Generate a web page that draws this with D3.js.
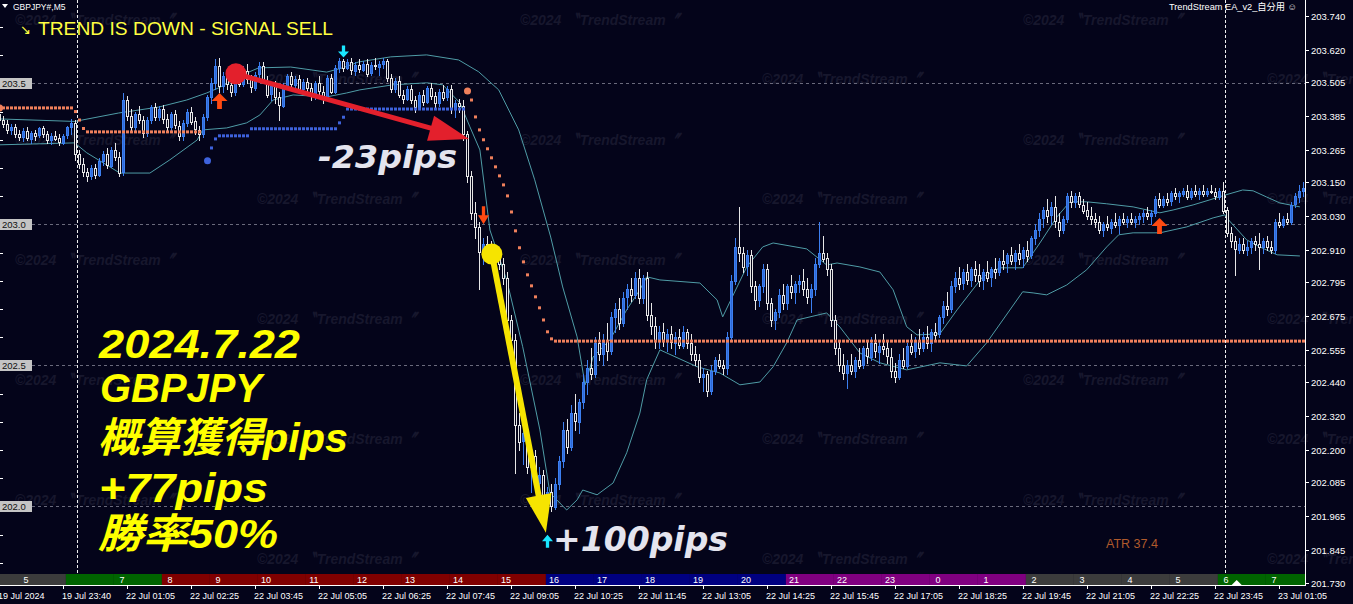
<!DOCTYPE html>
<html>
<head>
<meta charset="utf-8">
<script src="https://cdn.jsdelivr.net/npm/d3@7"></script>
<style>
  body { margin: 0; background: #04041a; }
  svg { display: block; }
</style>
</head>
<body>
<svg id="chart" width="1353" height="604"></svg>
<script>
// ---- data (GBPJPY M5, one row per candle: open, high, low, close) ----
const ohlc = [
  [203.390,203.405,203.360,203.370],[203.370,203.385,203.345,203.355],[203.355,203.370,203.325,203.335],[203.335,203.355,203.320,203.345],[203.345,203.355,203.310,203.320],
  [203.320,203.335,203.300,203.310],[203.310,203.340,203.295,203.330],[203.330,203.345,203.300,203.305],[203.305,203.330,203.290,203.325],[203.325,203.335,203.300,203.315],
  [203.315,203.345,203.310,203.340],[203.340,203.350,203.310,203.320],[203.320,203.330,203.290,203.300],[203.300,203.325,203.285,203.315],[203.315,203.330,203.300,203.305],
  [203.305,203.320,203.280,203.290],[203.290,203.320,203.285,203.315],[203.315,203.350,203.305,203.345],[203.345,203.375,203.320,203.360],[203.360,203.370,203.230,203.250],
  [203.250,203.265,203.200,203.215],[203.215,203.235,203.170,203.185],[203.185,203.200,203.155,203.170],[203.170,203.210,203.160,203.200],[203.200,203.215,203.165,203.175],
  [203.175,203.235,203.170,203.225],[203.225,203.260,203.210,203.250],[203.250,203.270,203.200,203.210],[203.210,203.275,203.205,203.265],[203.265,203.290,203.230,203.240],
  [203.240,203.255,203.170,203.185],[203.185,203.465,203.175,203.440],[203.440,203.455,203.370,203.385],[203.385,203.410,203.330,203.345],[203.345,203.400,203.335,203.390],
  [203.390,203.420,203.360,203.370],[203.370,203.385,203.310,203.325],[203.325,203.380,203.315,203.370],[203.370,203.425,203.360,203.415],[203.415,203.430,203.370,203.380],
  [203.380,203.420,203.370,203.410],[203.410,203.425,203.360,203.375],[203.375,203.390,203.330,203.345],[203.345,203.400,203.335,203.390],[203.390,203.405,203.340,203.350],
  [203.350,203.365,203.300,203.315],[203.315,203.370,203.300,203.360],[203.360,203.410,203.350,203.400],[203.400,203.415,203.355,203.365],[203.365,203.380,203.320,203.335],
  [203.335,203.350,203.300,203.320],[203.320,203.390,203.310,203.380],[203.380,203.460,203.370,203.450],[203.450,203.520,203.430,203.500],[203.500,203.585,203.480,203.560],
  [203.560,203.590,203.470,203.490],[203.490,203.540,203.470,203.525],[203.525,203.545,203.480,203.495],[203.495,203.520,203.455,203.470],[203.470,203.530,203.460,203.520],
  [203.520,203.550,203.490,203.500],[203.500,203.560,203.490,203.545],[203.545,203.570,203.500,203.515],[203.515,203.530,203.470,203.485],[203.485,203.540,203.475,203.530],
  [203.530,203.575,203.515,203.560],[203.560,203.575,203.500,203.510],[203.510,203.525,203.450,203.460],[203.460,203.500,203.440,203.490],[203.490,203.510,203.430,203.450],
  [203.450,203.470,203.370,203.420],[203.420,203.500,203.415,203.490],[203.490,203.535,203.480,203.525],[203.525,203.540,203.480,203.495],[203.495,203.525,203.470,203.515],
  [203.515,203.530,203.470,203.480],[203.480,203.515,203.465,203.505],[203.505,203.520,203.470,203.485],[203.485,203.500,203.440,203.455],[203.455,203.510,203.445,203.500],
  [203.500,203.525,203.460,203.470],[203.470,203.490,203.430,203.445],[203.445,203.530,203.440,203.520],[203.520,203.535,203.465,203.470],[203.470,203.565,203.465,203.555],
  [203.555,203.590,203.540,203.580],[203.580,203.588,203.545,203.555],[203.555,203.585,203.550,203.575],[203.575,203.590,203.535,203.545],[203.545,203.575,203.530,203.565],
  [203.565,203.585,203.540,203.550],[203.550,203.580,203.545,203.570],[203.570,203.585,203.525,203.535],[203.535,203.575,203.530,203.565],[203.565,203.590,203.550,203.560],
  [203.560,203.580,203.530,203.570],[203.570,203.590,203.555,203.580],[203.580,203.585,203.510,203.520],[203.520,203.535,203.470,203.480],[203.480,203.520,203.470,203.510],
  [203.510,203.525,203.450,203.460],[203.460,203.475,203.430,203.445],[203.445,203.490,203.440,203.480],[203.480,203.495,203.430,203.440],[203.440,203.455,203.400,203.415],
  [203.415,203.470,203.410,203.460],[203.460,203.475,203.425,203.435],[203.435,203.490,203.430,203.485],[203.485,203.500,203.445,203.455],[203.455,203.470,203.415,203.430],
  [203.430,203.480,203.420,203.470],[203.470,203.495,203.440,203.450],[203.450,203.490,203.440,203.480],[203.480,203.495,203.395,203.410],[203.410,203.440,203.380,203.430],
  [203.430,203.445,203.400,203.420],[203.420,203.440,203.300,203.320],[203.320,203.330,203.150,203.170],[203.170,203.190,203.020,203.040],[203.040,203.080,202.950,202.990],
  [202.990,203.010,202.770,202.900],[202.900,202.950,202.860,202.930],[202.930,202.960,202.890,202.910],[202.910,202.940,202.860,202.880],[202.880,202.920,202.840,202.900],
  [202.900,202.915,202.840,202.860],[202.860,202.880,202.790,202.810],[202.810,202.830,202.640,202.660],[202.660,202.680,202.560,202.590],[202.590,202.610,202.120,202.290],
  [202.290,202.330,202.200,202.230],[202.230,202.280,202.150,202.260],[202.260,202.280,202.120,202.140],[202.140,202.200,202.050,202.180],[202.180,202.200,202.060,202.080],
  [202.080,202.140,202.000,202.110],[202.110,202.130,202.000,202.020],[202.020,202.070,201.975,202.050],[202.050,202.080,201.985,202.000],[202.000,202.100,201.990,202.080],
  [202.080,202.180,202.060,202.160],[202.160,202.300,202.140,202.270],[202.270,202.310,202.190,202.210],[202.210,202.360,202.200,202.330],[202.330,202.400,202.270,202.300],
  [202.300,202.380,202.260,202.370],[202.370,202.470,202.350,202.440],[202.440,202.520,202.400,202.490],[202.490,202.560,202.450,202.470],[202.470,202.600,202.460,202.580],
  [202.580,202.620,202.520,202.540],[202.540,202.610,202.500,202.590],[202.590,202.650,202.520,202.550],[202.550,202.690,202.540,202.670],[202.670,202.720,202.620,202.700],
  [202.700,202.740,202.630,202.650],[202.650,202.760,202.640,202.740],[202.740,202.790,202.700,202.770],[202.770,202.810,202.730,202.750],[202.750,202.830,202.740,202.810],
  [202.810,202.840,202.720,202.740],[202.740,202.820,202.720,202.810],[202.810,202.830,202.660,202.680],[202.680,202.720,202.610,202.640],[202.640,202.670,202.560,202.590],
  [202.590,202.640,202.560,202.620],[202.620,202.650,202.570,202.590],[202.590,202.630,202.550,202.610],[202.610,202.640,202.560,202.580],[202.580,202.620,202.540,202.600],
  [202.600,202.630,202.560,202.570],[202.570,202.640,202.560,202.620],[202.620,202.630,202.560,202.580],[202.580,202.610,202.520,202.540],[202.540,202.570,202.500,202.520],
  [202.520,202.540,202.440,202.460],[202.460,202.490,202.410,202.470],[202.470,202.480,202.390,202.410],[202.410,202.500,202.400,202.480],[202.480,202.530,202.470,202.520],
  [202.520,202.540,202.490,202.500],[202.500,202.520,202.470,202.490],[202.490,202.620,202.470,202.600],[202.600,202.820,202.590,202.800],[202.800,202.950,202.790,202.920],
  [202.920,203.060,202.870,202.900],[202.900,202.920,202.830,202.850],[202.850,202.910,202.820,202.890],[202.890,202.910,202.760,202.780],[202.780,202.800,202.700,202.730],
  [202.730,202.790,202.710,202.780],[202.780,202.860,202.760,202.840],[202.840,202.860,202.700,202.720],[202.720,202.740,202.640,202.660],[202.660,202.700,202.630,202.690],
  [202.690,202.770,202.670,202.750],[202.750,202.790,202.700,202.720],[202.720,202.790,202.700,202.780],[202.780,202.820,202.740,202.760],[202.760,202.800,202.720,202.790],
  [202.790,202.820,202.760,202.800],[202.800,202.840,202.750,202.770],[202.770,202.810,202.720,202.740],[202.740,202.790,202.690,202.770],[202.770,202.880,202.750,202.860],
  [202.860,203.010,202.850,202.900],[202.900,202.960,202.870,202.880],[202.880,202.900,202.820,202.840],[202.840,202.860,202.640,202.660],[202.660,202.680,202.540,202.560],
  [202.560,202.590,202.480,202.500],[202.500,202.540,202.450,202.470],[202.470,202.520,202.420,202.500],[202.500,202.540,202.470,202.480],[202.480,202.530,202.460,202.520],
  [202.520,202.560,202.490,202.500],[202.500,202.570,202.490,202.560],[202.560,202.590,202.510,202.530],[202.530,202.600,202.520,202.580],[202.580,202.610,202.530,202.550],
  [202.550,202.590,202.510,202.570],[202.570,202.610,202.540,202.560],[202.560,202.590,202.510,202.530],[202.530,202.560,202.460,202.480],[202.480,202.510,202.440,202.460],
  [202.460,202.540,202.450,202.520],[202.520,202.560,202.490,202.500],[202.500,202.580,202.490,202.570],[202.570,202.610,202.540,202.550],[202.550,202.600,202.530,202.590],
  [202.590,202.630,202.540,202.560],[202.560,202.620,202.550,202.600],[202.600,202.640,202.560,202.580],[202.580,202.630,202.550,202.620],[202.620,202.650,202.590,202.610],
  [202.610,202.680,202.600,202.670],[202.670,202.730,202.650,202.710],[202.710,202.760,202.680,202.700],[202.700,202.800,202.690,202.780],[202.780,202.830,202.760,202.810],
  [202.810,202.850,202.770,202.790],[202.790,202.840,202.770,202.830],[202.830,202.860,202.790,202.800],[202.800,202.850,202.780,202.840],[202.840,202.870,202.800,202.820],
  [202.820,202.860,202.780,202.800],[202.800,202.840,202.770,202.830],[202.830,202.870,202.800,202.810],[202.810,202.850,202.780,202.840],[202.840,202.880,202.810,202.830],
  [202.830,202.880,202.820,202.870],[202.870,202.910,202.840,202.860],[202.860,202.900,202.830,202.890],[202.890,202.920,202.860,202.870],[202.870,202.910,202.840,202.900],
  [202.900,202.930,202.860,202.880],[202.880,202.920,202.850,202.910],[202.910,202.940,202.870,202.890],[202.890,202.960,202.880,202.950],[202.950,203.000,202.930,202.980],
  [202.980,203.040,202.960,203.020],[203.020,203.060,202.990,203.050],[203.050,203.090,203.010,203.030],[203.030,203.080,203.000,203.060],[203.060,203.100,202.990,203.010],
  [203.010,203.040,202.960,202.980],[202.980,203.030,202.970,203.020],[203.020,203.110,203.010,203.100],[203.100,203.120,203.060,203.080],[203.080,203.110,203.060,203.100],
  [203.100,203.115,203.060,203.070],[203.070,203.090,203.040,203.050],[203.050,203.080,203.020,203.030],[203.030,203.060,203.000,203.020],[203.020,203.040,202.990,203.010],
  [203.010,203.030,202.970,202.980],[202.980,203.010,202.960,203.000],[203.000,203.030,202.980,202.990],[202.990,203.020,202.970,203.010],[203.010,203.040,202.990,203.000],
  [203.000,203.030,202.970,203.020],[203.020,203.040,203.000,203.010],[203.010,203.030,202.990,203.020],[203.020,203.040,203.000,203.010],[203.010,203.030,202.990,203.020],
  [203.020,203.040,203.000,203.030],[203.030,203.050,203.010,203.040],[203.040,203.060,203.020,203.030],[203.030,203.050,203.000,203.040],[203.040,203.100,203.030,203.090],
  [203.090,203.110,203.060,203.070],[203.070,203.100,203.060,203.090],[203.090,203.110,203.070,203.080],[203.080,203.120,203.070,203.110],[203.110,203.130,203.090,203.100],
  [203.100,203.120,203.080,203.110],[203.110,203.130,203.100,203.120],[203.120,203.140,203.090,203.100],[203.100,203.130,203.090,203.120],[203.120,203.140,203.100,203.110],
  [203.110,203.130,203.090,203.120],[203.120,203.140,203.100,203.110],[203.110,203.130,203.100,203.120],[203.120,203.140,203.110,203.115],[203.115,203.130,203.090,203.100],
  [203.100,203.130,203.090,203.120],[203.120,203.150,203.040,203.050],[203.050,203.060,202.960,202.970],[202.970,202.990,202.920,202.940],[202.940,202.960,202.820,202.910],
  [202.910,202.950,202.900,202.930],[202.930,202.950,202.900,202.910],[202.910,202.940,202.890,202.920],[202.920,202.950,202.900,202.940],[202.940,202.960,202.910,202.930],
  [202.930,202.970,202.840,202.920],[202.920,202.950,202.900,202.940],[202.940,202.960,202.910,202.920],[202.920,202.940,202.900,202.910],[202.910,203.020,202.900,203.010],
  [203.010,203.040,202.990,203.000],[203.000,203.030,202.990,203.020],[203.020,203.040,203.000,203.010],[203.010,203.080,203.000,203.070],[203.070,203.110,203.060,203.100],
  [203.100,203.140,203.080,203.120],[203.120,203.150,203.100,203.130]
];

// band vertices: [candle index, price]
const upperBand = [
  [0,203.374],[19,203.365],[30,203.395],[40,203.416],[47,203.441],[52,203.466],[55,203.484],[62,203.537],[65,203.555],
  [73,203.558],[82,203.540],[86,203.555],[90,203.576],[98,203.594],[107,203.601],[115,203.583],[120,203.541],[125,203.477],
  [130,203.335],[134,203.158],[138,202.955],[141,202.778],[144.6,202.601],[146.6,202.431],[148.6,202.530],[152.8,202.590],
  [157,202.697],[160.3,202.768],[162,202.814],[165.3,202.803],[175.3,202.792],[179.6,202.732],[181,202.672],[187,202.849],
  [191,202.920],[193.6,202.934],[202,202.913],[207,202.856],[209.6,202.863],[215.3,202.849],[220.3,202.831],[223.6,202.768],
  [227,202.637],[229.6,202.608],[235.3,202.612],[239.6,202.697],[246,202.814],[250.3,202.846],[256,202.846],[260.3,202.934],
  [264.6,203.027],[267.8,203.080],[272,203.080],[277,203.073],[283.6,203.062],[290.3,203.041],[293.6,203.051],[298.6,203.069],
  [302.8,203.087],[306.6,203.104],[311,203.122],[313.6,203.119],[317,203.097],[320.3,203.076],[325.3,203.062]
];
const lowerBand = [
  [0,203.282],[19,203.289],[22,203.254],[30.3,203.182],[37.8,203.182],[42.8,203.229],[49.6,203.299],[51,203.335],[57,203.342],
  [62,203.360],[65.3,203.388],[68.6,203.441],[73.6,203.459],[82,203.452],[87,203.466],[90.3,203.477],[98.6,203.495],[107,203.502],
  [111,203.495],[115.3,203.431],[117.8,203.346],[120.3,203.264],[122.8,202.980],[127,202.803],[131,202.566],[135.3,202.271],
  [137.8,202.048],[142,201.987],[144.6,202.023],[146,202.058],[149.6,202.041],[153.6,202.083],[157,202.190],[160.3,202.331],
  [162,202.449],[165.3,202.555],[174.6,202.495],[180.3,202.473],[185.3,202.431],[190.3,202.441],[193.6,202.495],[197,202.580],
  [199.6,202.661],[207,202.686],[210.3,202.636],[215.3,202.544],[220.3,202.509],[227,202.484],[235.3,202.509],[242,202.498],
  [247,202.580],[256,202.761],[258.6,202.757],[262,202.750],[267,202.785],[272,202.839],[277,202.920],[280,202.963],
  [283.6,202.970],[290.3,202.970],[297,202.991],[303.6,203.023],[306.6,203.034],[307,203.023],[312,202.945],[315.3,202.920],
  [319.6,202.892],[325.3,202.888]
];

// trailing stop dots: [from candle, to candle, level]
const sellStopA = [[0,18,203.413],[19,19,203.400],[20,20,203.370],[21,21,203.340],[22,50,203.328]];
const buyStop = [[52,52,203.226],[53,53,203.271],[54,54,203.303],[55,62,203.314],[63,84,203.339],[85,85,203.360],[86,86,203.380],[87,116,203.409]];
const sellStopB = [
  [117,117,203.473],[118,118,203.441],[119,119,203.381],[120,120,203.335],[121,121,203.300],[122,122,203.268],[123,123,203.236],
  [124,124,203.204],[125,125,203.172],[126,126,203.140],[127,127,203.101],[128,128,203.044],[129,129,202.977],[130,130,202.917],
  [131,131,202.867],[132,132,202.821],[133,133,202.782],[134,134,202.743],[135,135,202.704],[136,136,202.661],[137,137,202.619],
  [138,138,202.594],[139,326,202.586]
];

// signal arrows: candle, tip price, kind
const signals = [
  {i: 55, price: 203.466, kind: "buy"},
  {i: 86, price: 203.592, kind: "entryDown"},
  {i: 121, price: 203.000, kind: "sell"},
  {i: 137, price: 201.899, kind: "exitUp"},
  {i: 290, price: 203.023, kind: "buy"}
];

// hand-drawn trade arrows: start circle and arrow tip, in [candle, price]
const trades = [
  {kind: "loss", from: [59.3, 203.534], to: [117.6, 203.303]},
  {kind: "win",  from: [123.3, 202.895], to: [136.8, 201.906]}
];

const priceTicks = ["203.740","203.620","203.505","203.385","203.265","203.150","203.030","202.910","202.795",
  "202.675","202.555","202.440","202.320","202.200","202.085","201.965","201.845","201.730"];
const gridLevels = [203.5, 203.0, 202.5, 202.0];
const timeLabels = ["19 Jul 2024","19 Jul 23:40","22 Jul 01:05","22 Jul 02:25","22 Jul 03:45","22 Jul 05:05","22 Jul 06:25",
  "22 Jul 07:45","22 Jul 09:05","22 Jul 10:25","22 Jul 11:45","22 Jul 13:05","22 Jul 14:25","22 Jul 15:45","22 Jul 17:05",
  "22 Jul 18:25","22 Jul 19:45","22 Jul 21:05","22 Jul 22:25","22 Jul 23:45","23 Jul 01:05"];
const dayBreaks = [20, 307];
const sessionHours = [5,6,7,8,9,10,11,12,13,14,15,16,17,18,19,20,21,22,23,0,1,2,3,4,5,6,7];
const sessionLabels = ["5","","7","8","9","10","11","12","13","14","15","16","17","18","19","20","21","22","23","0","1","2","3","4","5","6","7"];
const summaryLines = ["2024.7.22", "GBPJPY", "概算獲得pips", "+77pips", "勝率50%"];

// ---- layout ----
const W = 1353, H = 604;
const plotRight = 1305, sessTop = 574, axisY = 585;
const bg = "#04041a";

const svg = d3.select("#chart");
const x = d3.scaleLinear().domain([0, 1]).range([-1.3, 2.7]);
const y = d3.scaleLinear().domain([201.73, 203.74]).range([582.5, 15.7]);
const px = i => Math.round(x(i)) + 0.5;

svg.append("rect").attr("width", W).attr("height", H).attr("fill", bg);

// watermark
const wm = svg.append("g").attr("fill", "#17172d")
  .attr("font-family", "'Liberation Sans', Arial, sans-serif")
  .attr("font-weight", "bold").attr("font-style", "italic").attr("font-size", 15.5);
[[15, 19], [520, 19], [1023, 19], [257, 78], [762, 78], [1267, 78]].forEach(([wx, wy]) => {
  for (let r = 0; r < 5; r++) {
    wm.append("text").attr("x", wx).attr("y", wy + r * 120 + 6)
      .attr("textLength", 160).attr("lengthAdjust", "spacingAndGlyphs")
      .text("©2024 〝TrendStream〞");
  }
});

const plot = svg.append("g");

// grid
plot.selectAll(".grid").data(gridLevels).join("line")
  .attr("x1", 32).attr("x2", plotRight)
  .attr("y1", d => Math.round(y(d)) + 0.5).attr("y2", d => Math.round(y(d)) + 0.5)
  .attr("stroke", "#6a6a7c").attr("stroke-dasharray", "3,3");

plot.selectAll(".sep").data(dayBreaks).join("line")
  .attr("x1", d => Math.round(x(d - 0.5)) + 0.5).attr("x2", d => Math.round(x(d - 0.5)) + 0.5)
  .attr("y1", 0).attr("y2", sessTop)
  .attr("stroke", "#f0f0f0").attr("stroke-dasharray", "3,2");

// bands
const bandLine = d3.line().x(d => x(d[0])).y(d => y(d[1]));
[upperBand, lowerBand].forEach(b => {
  plot.append("path").attr("d", bandLine(b)).attr("fill", "none")
    .attr("stroke", "#4f9ca6").attr("stroke-width", 1);
});

// candles
const cg = plot.append("g").attr("shape-rendering", "crispEdges");
const candle = cg.selectAll("g").data(ohlc).join("g");
candle.append("line")
  .attr("x1", (d, i) => px(i)).attr("x2", (d, i) => px(i))
  .attr("y1", d => Math.round(y(d[1]))).attr("y2", d => Math.round(y(d[2])) + 1)
  .attr("stroke", d => d[3] >= d[0] ? "#3c7ff0" : "#e6e6e6");
candle.append("rect")
  .attr("x", (d, i) => px(i) - 1)
  .attr("width", 2)
  .attr("y", d => Math.round(y(Math.max(d[0], d[3]))) + 0.5)
  .attr("height", d => Math.max(1, Math.round(Math.abs(y(d[0]) - y(d[3])))))
  .attr("fill", d => d[3] >= d[0] ? "#2f68d6" : bg)
  .attr("stroke", d => d[3] >= d[0] ? "#3c7ff0" : "#e6e6e6");

// trailing stop dots
function stopDots(rows, color) {
  const pts = [];
  rows.forEach(([a, b, v]) => d3.range(a, b + 1).forEach(i => pts.push([i, v])));
  const g = plot.append("g").attr("fill", color);
  g.selectAll("rect").data(pts.slice(1)).join("rect")
    .attr("x", d => px(d[0]) - 1.5).attr("y", d => y(d[1]) - 1.5)
    .attr("width", 3).attr("height", 3);
  g.append("circle").attr("cx", px(pts[0][0])).attr("cy", y(pts[0][1])).attr("r", 3.5);
}
stopDots(sellStopA, "#f0805c");
stopDots(buyStop, "#3e62dc");
stopDots(sellStopB, "#f0805c");

// signal arrows
const arrowStyle = {
  buy: {dir: -1, w: 16, h: 16, color: "#ff4a12"},
  sell: {dir: 1, w: 11, h: 18, color: "#ff4a12"},
  entryDown: {dir: 1, w: 11, h: 12, color: "#19e6ff"},
  exitUp: {dir: -1, w: 11, h: 13, color: "#19e6ff"}
};
signals.forEach(s => {
  const st = arrowStyle[s.kind];
  const tx = px(s.i), ty = y(s.price);
  const hh = st.h * 0.5, sw = Math.max(2, st.w * 0.3) / 2, d = st.dir;
  // tip at (tx,ty); arrow body extends away from the tip
  const p = [[0, 0], [st.w / 2, hh], [sw, hh], [sw, st.h], [-sw, st.h], [-sw, hh], [-st.w / 2, hh]]
    .map(([a, b]) => [tx + a, ty - d * b]);
  plot.append("path").attr("d", "M" + p.join("L") + "Z").attr("fill", st.color);
});

// trade annotation arrows
const tradeStyle = {
  loss: {color: "#e3202c", width: 5, head: 40, half: 13},
  win: {color: "#f6e400", width: 6, head: 38, half: 13}
};
trades.forEach(t => {
  const st = tradeStyle[t.kind];
  const x0 = x(t.from[0]), y0 = y(t.from[1]), x1 = x(t.to[0]), y1 = y(t.to[1]);
  const len = Math.hypot(x1 - x0, y1 - y0), ux = (x1 - x0) / len, uy = (y1 - y0) / len;
  const bx = x1 - ux * st.head, by = y1 - uy * st.head;
  const g = plot.append("g");
  g.append("line").attr("x1", x0).attr("y1", y0).attr("x2", bx + ux * 2).attr("y2", by + uy * 2)
    .attr("stroke", st.color).attr("stroke-width", st.width);
  g.append("path").attr("fill", st.color)
    .attr("d", `M${x1},${y1}L${bx - uy * st.half},${by + ux * st.half}L${bx + uy * st.half},${by - ux * st.half}Z`);
  g.append("circle").attr("cx", x0).attr("cy", y0).attr("r", 10.5).attr("fill", st.color);
});

// pip labels
const bigFont = "'DejaVu Sans', sans-serif";
plot.append("text").attr("x", 318).attr("y", 168).attr("font-family", bigFont)
  .attr("font-weight", "bold").attr("font-style", "italic").attr("font-size", 32)
  .attr("textLength", 139).attr("lengthAdjust", "spacingAndGlyphs")
  .attr("fill", "#e4e4ee").text("-23pips");
plot.append("text").attr("x", 553).attr("y", 551).attr("font-family", bigFont)
  .attr("font-weight", "bold").attr("font-style", "italic").attr("font-size", 33)
  .attr("textLength", 175).attr("lengthAdjust", "spacingAndGlyphs")
  .attr("fill", "#e4e4ee").text("+100pips");

// summary block
const summaryPos = [[99, 358, 201], [100, 402, 162], [98, 452, 250], [99, 502, 169], [98, 548, 180]];
svg.append("g").attr("fill", "#ffff00")
  .attr("font-family", "'Liberation Sans', Arial, 'Noto Sans CJK JP', sans-serif")
  .attr("font-weight", "bold").attr("font-style", "italic").attr("font-size", 41)
  .selectAll("text").data(summaryLines).join("text")
  .attr("x", (d, i) => summaryPos[i][0]).attr("y", (d, i) => summaryPos[i][1])
  .attr("textLength", (d, i) => summaryPos[i][2]).attr("lengthAdjust", "spacingAndGlyphs")
  .text(d => d);

// ATR
svg.append("text").attr("x", 1106).attr("y", 548).attr("fill", "#b05a2c")
  .attr("font-family", "'Liberation Sans', Arial, sans-serif").attr("font-size", 12.5)
  .text("ATR 37.4");

// session bar
const sessColor = h => (h >= 2 && h <= 5) ? "#3c3c3c" : (h === 6 || h === 7) ? "#006400"
  : (h >= 8 && h <= 15) ? "#800000" : (h >= 16 && h <= 20) ? "#000080" : "#800080";
const sess = svg.append("g");
sessionHours.forEach((h, k) => {
  const a = Math.max(0, x(4.8 + 12 * k)), b = Math.min(plotRight, x(4.8 + 12 * (k + 1)));
  const a0 = k === 0 ? 0 : a;
  sess.append("rect").attr("x", a0).attr("y", sessTop).attr("width", b - a0).attr("height", axisY - sessTop)
    .attr("fill", sessColor(h));
  sess.append("text").attr("x", x(4.8 + 12 * k) + 8).attr("y", sessTop + 9)
    .attr("text-anchor", "middle").attr("fill", "#ffffff")
    .attr("font-family", "'Liberation Sans', Arial, sans-serif").attr("font-size", 9)
    .text(sessionLabels[k]);
});
svg.append("path").attr("d", `M${x(309.5) - 5},${axisY}L${x(309.5)},${axisY - 5}L${x(309.5) + 5},${axisY}Z`).attr("fill", "#ffffff");

// axes
const axisG = svg.append("g").attr("shape-rendering", "crispEdges");
axisG.append("line").attr("x1", 0).attr("x2", plotRight + 0.5).attr("y1", axisY + 0.5).attr("y2", axisY + 0.5).attr("stroke", "#ffffff");
axisG.append("line").attr("x1", plotRight + 0.5).attr("x2", plotRight + 0.5).attr("y1", 0).attr("y2", axisY + 0.5).attr("stroke", "#ffffff");

const small = "'Liberation Sans', Arial, sans-serif";
timeLabels.forEach((t, k) => {
  const tx = Math.round(x(16 * k)) + 0.5;
  axisG.append("line").attr("x1", tx).attr("x2", tx).attr("y1", axisY).attr("y2", axisY + 4).attr("stroke", "#ffffff");
  svg.append("text").attr("x", tx - 1.5).attr("y", 599).attr("fill", "#ffffff")
    .attr("font-family", small).attr("font-size", 9).text(t);
});

priceTicks.forEach(t => {
  const ty = Math.round(y(+t)) + 0.5;
  axisG.append("line").attr("x1", plotRight).attr("x2", plotRight + 4).attr("y1", ty).attr("y2", ty).attr("stroke", "#ffffff");
  svg.append("text").attr("x", 1311).attr("y", ty + 3.5).attr("fill", "#ffffff")
    .attr("font-family", small).attr("font-size", 9.5).text(t);
});

// left side ticks and level boxes
d3.range(18, 38).map(k => k / 10 + 200).forEach(v => {
  const ty = Math.round(y(v)) + 0.5;
  axisG.append("line").attr("x1", 0).attr("x2", 3).attr("y1", ty).attr("y2", ty).attr("stroke", "#ffffff");
});
gridLevels.forEach(v => {
  const ty = y(v);
  svg.append("rect").attr("x", 0).attr("y", Math.round(ty) - 5).attr("width", 32).attr("height", 11).attr("fill", "#c4c4c4");
  svg.append("text").attr("x", 2).attr("y", Math.round(ty) + 4).attr("fill", "#101010")
    .attr("font-family", small).attr("font-size", 9.5).text(v.toFixed(1));
});

// header texts
svg.append("path").attr("d", "M2,4L8,4L5,8Z").attr("fill", "#ffffff");
svg.append("text").attr("x", 13).attr("y", 9.5).attr("fill", "#ffffff")
  .attr("font-family", small).attr("font-size", 8.5).text("GBPJPY#,M5");
svg.append("text").attr("x", 20).attr("y", 34).attr("fill", "#ffff40")
  .attr("font-family", "'DejaVu Sans', sans-serif").attr("font-size", 13).text("↘");
svg.append("text").attr("x", 38).attr("y", 35).attr("fill", "#ffff40")
  .attr("font-family", small).attr("font-size", 18.5)
  .attr("textLength", 295).attr("lengthAdjust", "spacingAndGlyphs")
  .text("TREND IS DOWN - SIGNAL SELL");
svg.append("text").attr("x", 1169).attr("y", 10).attr("fill", "#ffffff")
  .attr("font-family", small + ", 'Noto Sans CJK JP'").attr("font-size", 9.5)
  .attr("textLength", 128).attr("lengthAdjust", "spacingAndGlyphs")
  .text("TrendStream EA_v2_自分用 ☺");
</script>
</body>
</html>
